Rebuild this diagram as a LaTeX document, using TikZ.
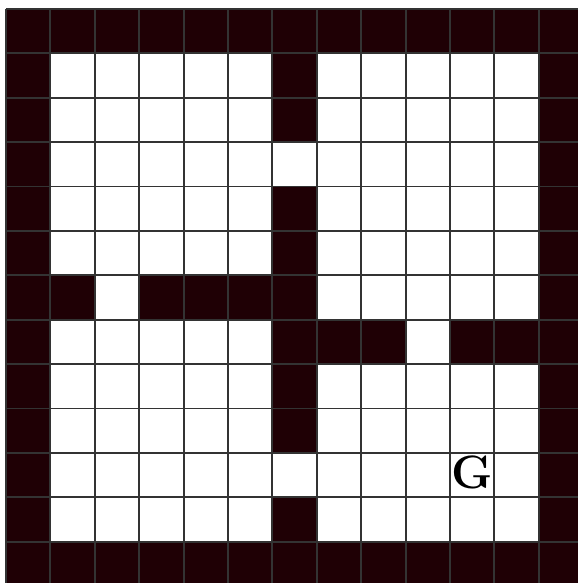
\documentclass[tikz,border=0pt]{standalone}
\usetikzlibrary{calc}
\definecolor{WallClr}{rgb}{0.12,0,0.02}
\definecolor{GridClr}{rgb}{0.2,0.2,0.2}

\begin{document}
\begin{tikzpicture}[scale=1]
\useasboundingbox (-0.135,0.07) rectangle (12.88,13.2);

% outer wall and rooms
\fill[WallClr] (0,0) rectangle (13,13);
\fill[white] (1,1) rectangle (12,12);

% inner walls (column/row, row 0 at the top)
\foreach \c/\r in {6/1,6/2,6/4,6/5,6/6,1/6,3/6,4/6,5/6,
                   6/7,7/7,8/7,10/7,11/7,6/8,6/9,6/11}
  \fill[WallClr] (\c,12-\r) rectangle ++(1,1);

\draw[GridClr,line width=1.2pt] (0,0) grid (13,13);

\node[font=\fontsize{30}{30}\selectfont\bfseries] (goal) at (10.5,2.55) {G};

\end{tikzpicture}
\end{document}
